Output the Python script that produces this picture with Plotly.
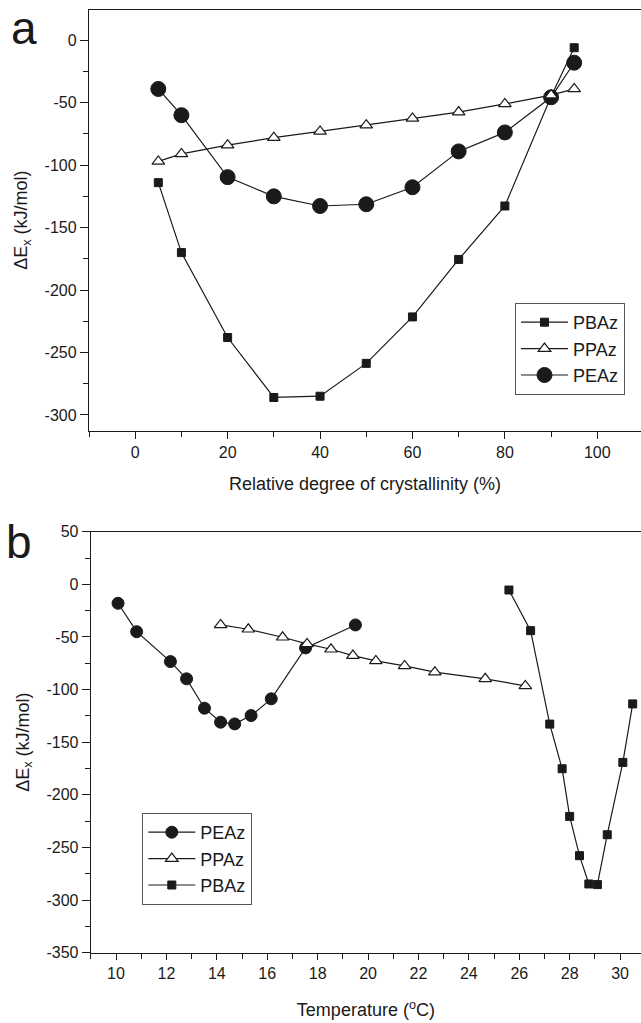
import plotly.graph_objects as go

# ---------------- data: panel a ----------------
crystallinity = [5, 10, 20, 30, 40, 50, 60, 70, 80, 90, 95]
pbaz_a = [-114, -170, -238, -286, -285, -258.7, -221.5, -175.5, -132.7, -45, -6]
ppaz_a = [-97, -91, -84, -78, -73, -68, -62.6, -57.5, -51, -44, -39]
peaz_a = [-39, -60, -109.6, -125, -132.7, -131.3, -117.7, -89, -73.8, -45.7, -18]

# ---------------- data: panel b ----------------
peaz_T = [10.08, 10.82, 12.16, 12.8, 13.51, 14.15, 14.71, 15.36, 16.16, 17.52, 19.5]
peaz_b = [-18, -45, -73.4, -89.8, -117.7, -131, -132.6, -124.7, -108.8, -60.4, -38.6]
ppaz_T = [14.15, 15.25, 16.61, 17.58, 18.53, 19.4, 20.31, 21.45, 22.65, 24.65, 26.24]
ppaz_b = [-38.6, -42.7, -50.3, -56.6, -61.7, -67.7, -72.8, -77.5, -83.5, -89.8, -96.5]
pbaz_T = [25.59, 26.45, 27.21, 27.7, 28.0, 28.39, 28.76, 29.1, 29.49, 30.11, 30.5]
pbaz_b = [-5.4, -44, -132.8, -175.2, -220.5, -257.8, -284.7, -285.3, -237.9, -169.2, -113.6]

# ---------------- ticks ----------------
xa_tickvals = [0, 20, 40, 60, 80, 100]
xa_ticktext = ["0", "20", "40", "60", "80", "100"]
ya_tickvals = [0, -50, -100, -150, -200, -250, -300]
ya_ticktext = ["0", "-50", "-100", "-150", "-200", "-250", "-300"]
xb_tickvals = [10, 12, 14, 16, 18, 20, 22, 24, 26, 28, 30]
xb_ticktext = ["10", "12", "14", "16", "18", "20", "22", "24", "26", "28", "30"]
yb_tickvals = [50, 0, -50, -100, -150, -200, -250, -300, -350]
yb_ticktext = ["50", "0", "-50", "-100", "-150", "-200", "-250", "-300", "-350"]

FONT = "Arial, 'Liberation Sans', sans-serif"
INK = "#1a1a1a"
LINE = dict(color=INK, width=1.2)

W, H = 641, 1023
L = 89

fig = go.Figure()

# panel a traces (drawing order: circles, squares, triangles on top)
fig.add_trace(go.Scatter(x=crystallinity, y=peaz_a, name="PEAz", mode="lines+markers",
                         line=LINE, legendrank=3, legend="legend",
                         marker=dict(symbol="circle", size=15, color=INK, line=dict(color=INK, width=1)),
                         xaxis="x", yaxis="y"))
fig.add_trace(go.Scatter(x=crystallinity, y=pbaz_a, name="PBAz", mode="lines+markers",
                         line=LINE, legendrank=1, legend="legend",
                         marker=dict(symbol="square", size=8, color=INK, line=dict(color=INK, width=1)),
                         xaxis="x", yaxis="y"))
fig.add_trace(go.Scatter(x=crystallinity, y=ppaz_a, name="PPAz", mode="lines+markers",
                         line=LINE, legendrank=2, legend="legend",
                         marker=dict(symbol="triangle-up", size=11, color="white", line=dict(color=INK, width=1.2)),
                         xaxis="x", yaxis="y"))

# panel b traces
fig.add_trace(go.Scatter(x=peaz_T, y=peaz_b, name="PEAz", mode="lines+markers",
                         line=LINE, legendrank=1, legend="legend2",
                         marker=dict(symbol="circle", size=12, color=INK, line=dict(color=INK, width=1)),
                         xaxis="x2", yaxis="y2"))
fig.add_trace(go.Scatter(x=pbaz_T, y=pbaz_b, name="PBAz", mode="lines+markers",
                         line=LINE, legendrank=3, legend="legend2",
                         marker=dict(symbol="square", size=8, color=INK, line=dict(color=INK, width=1)),
                         xaxis="x2", yaxis="y2"))
fig.add_trace(go.Scatter(x=ppaz_T, y=ppaz_b, name="PPAz", mode="lines+markers",
                         line=LINE, legendrank=2, legend="legend2",
                         marker=dict(symbol="triangle-up", size=11, color="white", line=dict(color=INK, width=1.2)),
                         xaxis="x2", yaxis="y2"))

dom_a = [1 - 430.7 / H, 1 - 9.5 / H]
dom_b = [1 - 952.7 / H, 1 - 531.7 / H]
xb_start = (90.8 - L) / (W - L)

axis_common = dict(showline=True, linecolor=INK, linewidth=1.3, ticks="outside",
                   tickcolor=INK, tickwidth=1.2, showgrid=False, zeroline=False,
                   automargin=False,
                   tickfont=dict(family=FONT, size=16, color=INK),
                   tickmode="array")

fig.update_layout(
    width=W, height=H,
    margin=dict(l=L, r=0, t=0, b=0, autoexpand=False),
    paper_bgcolor="white", plot_bgcolor="white",
    font=dict(family=FONT, color=INK, size=16),
    xaxis=dict(**axis_common, domain=[0, 1], anchor="y", range=[-10, 109.46],
               tickvals=xa_tickvals, ticktext=xa_ticktext, ticklen=7, mirror=True,
               minor=dict(tickmode="linear", tick0=0, dtick=10, ticks="outside", ticklen=5,
                          tickcolor=INK, tickwidth=1.2),
               title=dict(text="Relative degree of crystallinity (%)", standoff=17,
                          font=dict(family=FONT, size=18, color=INK))),
    yaxis=dict(**axis_common, domain=dom_a, anchor="x", range=[-312.6, 24.6],
               tickvals=ya_tickvals, ticktext=ya_ticktext, ticklen=8,
               minor=dict(tickmode="linear", tick0=0, dtick=25, ticks="outside", ticklen=5,
                          tickcolor=INK, tickwidth=1.2),
               title=dict(text="ΔE<sub>x</sub> (kJ/mol)", standoff=12,
                          font=dict(family=FONT, size=18, color=INK))),
    xaxis2=dict(**axis_common, domain=[xb_start, 1], anchor="y2", range=[9, 30.83],
                tickvals=xb_tickvals, ticktext=xb_ticktext, ticklen=6, mirror=True,
                minor=dict(tickmode="linear", tick0=0, dtick=1, ticks="outside", ticklen=5,
                           tickcolor=INK, tickwidth=1.2),
                title=dict(text="Temperature (<sup>o</sup>C)", standoff=22,
                           font=dict(family=FONT, size=18, color=INK))),
    yaxis2=dict(**axis_common, domain=dom_b, anchor="x2", range=[-350, 50],
                tickvals=yb_tickvals, ticktext=yb_ticktext, ticklen=8,
                minor=dict(tickmode="linear", tick0=0, dtick=25, ticks="outside", ticklen=5,
                           tickcolor=INK, tickwidth=1.2),
                title=dict(text="ΔE<sub>x</sub> (kJ/mol)", standoff=12,
                           font=dict(family=FONT, size=18, color=INK))),
    # small inward ticks along the top frame
    xaxis3=dict(overlaying="x", side="top", anchor="y", range=[-10, 109.46], showline=False,
                ticks="inside", ticklen=3, tickcolor=INK, tickmode="linear", tick0=0, dtick=10,
                showticklabels=False, showgrid=False, zeroline=False, automargin=False),
    xaxis4=dict(overlaying="x2", side="top", anchor="y2", range=[9, 30.83], showline=False,
                ticks="inside", ticklen=3, tickcolor=INK, tickmode="linear", tick0=0, dtick=1,
                showticklabels=False, showgrid=False, zeroline=False, automargin=False),
    legend=dict(x=(515 - L) / (W - L), y=1 - 303 / H, xanchor="left", yanchor="top",
                bordercolor="#555", borderwidth=1, bgcolor="white", traceorder="normal",
                itemwidth=47, font=dict(family=FONT, size=18, color=INK)),
    legend2=dict(x=(142.3 - L) / (W - L), y=1 - 813 / H, xanchor="left", yanchor="top",
                 bordercolor="#555", borderwidth=1, bgcolor="white", traceorder="normal",
                 itemwidth=47, font=dict(family=FONT, size=18, color=INK)),
    showlegend=True,
    annotations=[
        dict(text="a", x=(23.5 - L) / (W - L), y=1 - 28.5 / H, xref="paper", yref="paper",
             showarrow=False, xanchor="center", yanchor="middle",
             font=dict(family=FONT, size=46, color=INK)),
        dict(text="b", x=(18.8 - L) / (W - L), y=1 - 542 / H, xref="paper", yref="paper",
             showarrow=False, xanchor="center", yanchor="middle",
             font=dict(family=FONT, size=46, color=INK)),
    ],
)

fig.write_html("out.html")
